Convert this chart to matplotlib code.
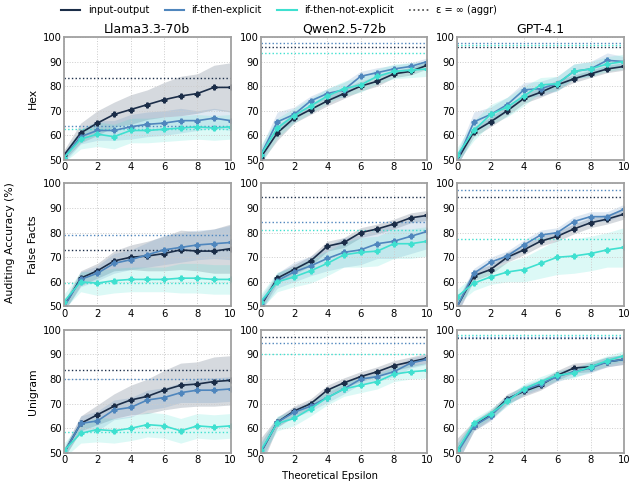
import numpy as np
import matplotlib.pyplot as plt
from matplotlib.lines import Line2D

eps = [0, 1, 2, 3, 4, 5, 6, 7, 8, 9, 10]
models = ['Llama3.3-70b', 'Qwen2.5-72b', 'GPT-4.1']
tasks = ['Hex', 'False Facts', 'Unigram']
methods = ['input-output', 'if-then-explicit', 'if-then-not-explicit']
colors = ['#1b2d48', '#4f86bd', '#3fe0d0']

# mean accuracy per (task, model) -> [io, ite, itne]
hex_llama = [[52, 61, 65, 68.5, 70.5, 72.5, 74.5, 76, 77, 79.5, 79.5],
             [51, 59.5, 62, 62, 63.5, 64.5, 65, 66, 66, 67, 66],
             [51, 58.5, 60.5, 59.5, 62, 62, 62.5, 63, 63.5, 63, 63.5]]
hex_qwen = [[51, 61, 67, 70.5, 74, 77, 80, 82, 85, 86, 88.5],
            [52, 65.5, 68.5, 74, 77, 78.5, 84, 85.5, 87, 88, 90],
            [52, 63, 68, 72, 76, 79, 80.5, 84, 86, 86.5, 87]]
hex_gpt = [[50, 61.5, 65.5, 70, 75, 77.5, 80.5, 83, 85, 87, 88],
           [50, 65.5, 68.5, 72.5, 78.5, 79, 81, 86, 87, 90.5, 90],
           [52, 62, 68.5, 71.5, 76, 80.5, 81, 86, 87, 89, 90]]
ff_llama = [[50, 61.5, 64.5, 68.5, 70, 70.5, 71.5, 73, 72.5, 72.5, 73.5],
            [50, 61, 63.5, 67.5, 69, 71, 73, 74, 75, 75.5, 76],
            [52, 60, 59.5, 60.5, 61, 61, 61, 61.5, 61.5, 61, 61]]
ff_qwen = [[50, 61.5, 65, 68.5, 74.5, 76, 80, 81.5, 83.5, 86, 87],
           [51, 60.5, 64, 66.5, 69.5, 72, 73, 75.5, 76.5, 78.5, 80.5],
           [52, 60, 62, 64.5, 67.5, 71, 72, 72.5, 75.5, 75.5, 76.5]]
ff_gpt = [[50, 62.5, 65, 70, 73, 76.5, 78.5, 81.5, 84, 85.5, 87.5],
          [50, 63.5, 68, 70.5, 75, 79, 80, 84.5, 86.5, 86.5, 89.5],
          [54, 59.5, 62, 64, 65, 67.5, 70, 70.5, 71.5, 73, 74]]
uni_llama = [[50, 62, 65.5, 69, 71.5, 73, 75.5, 77.5, 78, 79, 79.5],
             [50, 62, 63, 67.5, 68.5, 71.5, 72.5, 74.5, 75.5, 75.5, 76],
             [51, 58, 59.5, 59, 60, 61.5, 61, 59, 61, 60.5, 61]]
uni_qwen = [[50, 62.5, 67, 70, 75.5, 78.5, 81, 83, 85.5, 87, 88.5],
            [50, 62.5, 66.5, 69, 72.5, 76, 80, 81, 83, 86.5, 88],
            [51, 62, 64, 68, 72.5, 76, 77.5, 79, 82, 83, 83.5]]
uni_gpt = [[51, 61, 65.5, 72, 75, 77.5, 81.5, 84.5, 85, 87, 88],
           [50, 61, 65, 71.5, 75.5, 78, 81, 83, 84.5, 87, 88],
           [51, 62, 66, 71, 76, 79, 81.5, 82.5, 85, 87.5, 89.5]]

# spread (std) per point
hex_llama_sd = [[2, 4, 5, 5, 6, 6, 7, 8, 8, 9, 10],
                [2, 3, 4, 4, 5, 5, 5, 5, 4, 4, 4],
                [2, 4, 5, 5, 5, 5, 5, 5, 5, 5, 5]]
hex_qwen_sd = [[2, 3, 2, 2, 2, 2, 2, 2, 1.5, 1.5, 1.5],
               [3, 4, 3, 2, 2, 3, 2, 2, 1.5, 1.5, 1.5],
               [4, 4, 3, 3, 3, 3, 3, 3, 3, 3, 3]]
hex_gpt_sd = [[2, 2, 2, 2, 2, 2, 2, 1.5, 1.5, 1.5, 1.5],
              [3, 4, 3, 3, 3, 3, 3, 3, 3, 3, 2],
              [3, 4, 4, 4, 4, 3, 3, 3, 3, 3, 3]]
ff_llama_sd = [[2, 3, 3, 4, 5, 6, 7, 8, 8, 9, 10],
               [2, 3, 3, 4, 4, 5, 6, 6, 6, 6, 7],
               [3, 4, 5, 5, 5, 5, 5, 6, 6, 6, 6]]
ff_qwen_sd = [[2, 2, 2, 2, 2, 2, 2, 2, 2, 2, 2],
              [3, 3, 4, 4, 5, 6, 6, 6, 7, 7, 7],
              [3, 4, 4, 5, 5, 5, 6, 6, 6, 6, 6]]
ff_gpt_sd = [[3, 2, 2, 2, 2, 2, 2, 2, 2, 2, 2],
             [3, 2, 2, 2, 2, 2, 2, 2, 2, 2, 2],
             [3, 3, 3, 4, 5, 6, 7, 7, 7, 7, 8]]
uni_llama_sd = [[2, 3, 4, 5, 6, 7, 8, 9, 9, 10, 10],
                [2, 3, 4, 4, 4, 4, 4, 4, 5, 5, 5],
                [3, 4, 5, 5, 5, 5, 5, 5, 5, 5, 5]]
uni_qwen_sd = [[6, 2, 2, 2, 2, 2, 2, 2, 2, 2, 2],
               [4, 2, 2, 2, 2, 2, 2, 2, 2, 2, 2],
               [3, 3, 3, 3, 3, 3, 3, 3, 3, 3, 3]]
uni_gpt_sd = [[5, 2, 2, 2, 2, 2, 2, 2, 2, 2, 2],
              [4, 2, 2, 2, 2, 2, 2, 2, 2, 2, 2],
              [3, 2, 2, 2, 2, 2, 2, 2, 2, 2, 2]]

# eps = inf (aggr) reference levels [io, ite, itne]
hex_inf = [[83.5, 64, 62.5], [96, 97.5, 93.5], [96, 97.5, 96.8]]
ff_inf = [[73, 79, 59.5], [94.5, 84.5, 81], [94.5, 97.5, 77.5]]
uni_inf = [[83.5, 80, 58.5], [97, 94.5, 90], [96.5, 97, 98]]

means = [[hex_llama, hex_qwen, hex_gpt],
         [ff_llama, ff_qwen, ff_gpt],
         [uni_llama, uni_qwen, uni_gpt]]
sds = [[hex_llama_sd, hex_qwen_sd, hex_gpt_sd],
       [ff_llama_sd, ff_qwen_sd, ff_gpt_sd],
       [uni_llama_sd, uni_qwen_sd, uni_gpt_sd]]
infs = [hex_inf, ff_inf, uni_inf]

fig, axes = plt.subplots(3, 3, figsize=(6.34, 4.86), dpi=100)
fig.subplots_adjust(left=0.101, right=0.984, top=0.924, bottom=0.068,
                    wspace=0.18, hspace=0.19)

x = np.array(eps)
for r in range(3):
    for c in range(3):
        ax = axes[r, c]
        for k in range(3):
            m = np.array(means[r][c][k])
            s = np.array(sds[r][c][k])
            ax.fill_between(x, m - s, m + s, color=colors[k], alpha=0.18, linewidth=0)
        for k in range(3):
            ax.axhline(infs[r][c][k], color=colors[k], linestyle=':', linewidth=1.0)
        for k in range(3):
            ax.plot(x, means[r][c][k], color=colors[k], marker='P', markersize=3.5,
                    linewidth=1.2)
        ax.set_xlim(0, 10)
        ax.set_ylim(50, 100)
        ax.set_xticks([0, 2, 4, 6, 8, 10])
        ax.set_yticks([50, 60, 70, 80, 90, 100])
        ax.tick_params(labelsize=7.2, length=0, pad=1.5)
        ax.grid(True, linestyle=':', color='#cccccc', linewidth=0.7)
        for sp in ax.spines.values():
            sp.set_color('#a0a0a0')
            sp.set_linewidth(1.3)
        if r == 0:
            ax.set_title(models[c], fontsize=9, pad=3)
        if c == 0:
            ax.set_ylabel(tasks[r], fontsize=7.8, labelpad=3.5)

fig.text(0.016, 0.5, 'Auditing Accuracy (%)', rotation=90, va='center',
         ha='center', fontsize=7.8)
fig.text(0.52, 0.021, 'Theoretical Epsilon', ha='center', va='center', fontsize=7.3)

handles = [Line2D([0], [0], color=colors[0], linewidth=1.5),
           Line2D([0], [0], color=colors[1], linewidth=1.5),
           Line2D([0], [0], color=colors[2], linewidth=1.5),
           Line2D([0], [0], color='#444444', linestyle=':', linewidth=1.2)]
labels = methods + ['ε = ∞ (aggr)']
fig.legend(handles, labels, loc='upper center', ncol=4, frameon=False,
           bbox_to_anchor=(0.44, 1.007), fontsize=7, handlelength=2.0,
           columnspacing=1.6, handletextpad=0.75)

plt.savefig('out.png', dpi=100)
